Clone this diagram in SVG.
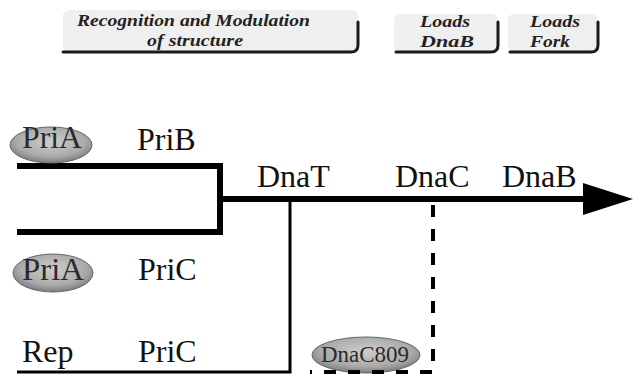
<svg xmlns="http://www.w3.org/2000/svg" width="633" height="376" viewBox="0 0 633 376">
<defs>
<style>
.box{fill:#efefef;}
.shadow{fill:none;stroke:#1a1a1a;stroke-width:3;stroke-linecap:round;stroke-linejoin:round;}
.btxt{font-family:"Liberation Serif","DejaVu Serif",serif;font-style:italic;font-weight:bold;font-size:16px;fill:#222;}
.lbl{font-family:"Liberation Serif",serif;font-size:32px;fill:#111;}
.ptxt{font-family:"Liberation Serif",serif;font-size:32px;fill:#2a2a2a;}
.small{font-family:"Liberation Serif",serif;font-size:23px;fill:#2a2a2a;}
.thick{stroke:#000;stroke-width:6;fill:none;}
.thin{stroke:#000;stroke-width:3;fill:none;}
.dash{stroke:#000;stroke-width:4;fill:none;stroke-dasharray:12 12;}
.prot{fill:url(#g);stroke:#666;stroke-width:1;}
</style>
<radialGradient id="g" cx="0.5" cy="0.4" r="0.6">
<stop offset="0" stop-color="#cdcdcd"/>
<stop offset="0.7" stop-color="#aaaaaa"/>
<stop offset="1" stop-color="#7c7c7c"/>
</radialGradient>
</defs>

<g id="box-recognition">
<rect class="box" x="63" y="10" width="295" height="42" rx="6"/>
<path class="shadow" d="M63 52 H351 Q358 52 358 45 V22"/>
<text class="btxt" x="77" y="26" textLength="233" lengthAdjust="spacingAndGlyphs">Recognition and Modulation</text>
<text class="btxt" x="147" y="46" textLength="96" lengthAdjust="spacingAndGlyphs">of structure</text>
</g>

<g id="box-loads-dnab">
<rect class="box" x="394" y="14" width="104" height="38" rx="6"/>
<path class="shadow" d="M396 52 H491 Q498 52 498 45 V22"/>
<text class="btxt" x="420" y="27" textLength="50" lengthAdjust="spacingAndGlyphs">Loads</text>
<text class="btxt" x="420" y="47" textLength="54" lengthAdjust="spacingAndGlyphs">DnaB</text>
</g>

<g id="box-loads-fork">
<rect class="box" x="508" y="14" width="90" height="38" rx="6"/>
<path class="shadow" d="M510 52 H591 Q598 52 598 45 V22"/>
<text class="btxt" x="530" y="27" textLength="50" lengthAdjust="spacingAndGlyphs">Loads</text>
<text class="btxt" x="530" y="47" textLength="40" lengthAdjust="spacingAndGlyphs">Fork</text>
</g>

<g id="dnaC809">
<ellipse class="prot" cx="366" cy="355" rx="54" ry="18"/>
<text class="small" x="321" y="362" textLength="88" lengthAdjust="spacingAndGlyphs">DnaC809</text>
</g>

<g id="connectors">
<path class="thick" d="M17 166 H220 V232 H17"/>
<path class="thick" d="M220 199 H585"/>
<polygon points="583,183 633,199 583,215" fill="#000"/>
<path class="thin" d="M290 199 V372 H17"/>
<path class="dash" d="M433 205 V372 H310"/>
</g>

<g id="priA-1">
<ellipse class="prot" cx="51" cy="145" rx="41" ry="18"/>
<text class="ptxt" x="22" y="148" textLength="60" lengthAdjust="spacingAndGlyphs">PriA</text>
</g>
<g id="priB"><text class="lbl" x="137" y="150">PriB</text></g>

<g id="priA-2">
<ellipse class="prot" cx="53" cy="273" rx="40" ry="19"/>
<text class="ptxt" x="22" y="280" textLength="62" lengthAdjust="spacingAndGlyphs">PriA</text>
</g>
<g id="priC-1"><text class="lbl" x="138" y="280">PriC</text></g>

<g id="rep"><text class="lbl" x="22" y="362">Rep</text></g>
<g id="priC-2"><text class="lbl" x="138" y="362">PriC</text></g>

<g id="dnaT"><text class="lbl" x="257" y="187">DnaT</text></g>
<g id="dnaC"><text class="lbl" x="395" y="187">DnaC</text></g>
<g id="dnaB"><text class="lbl" x="502" y="187">DnaB</text></g>
</svg>
